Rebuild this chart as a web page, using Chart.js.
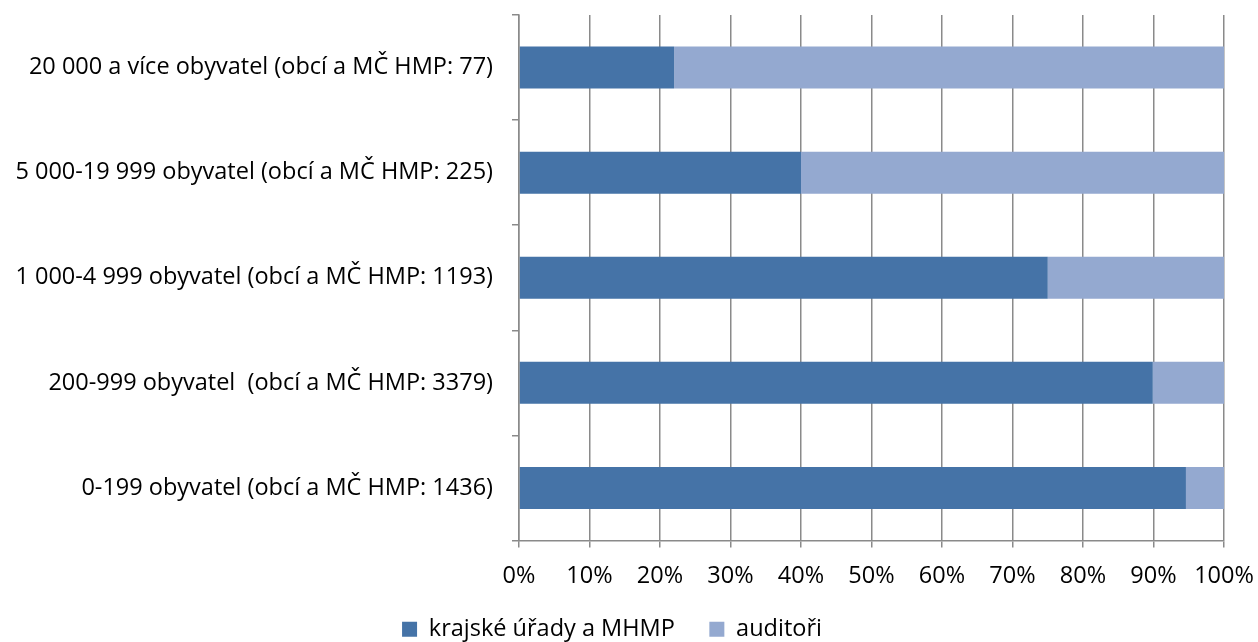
<!DOCTYPE html>
<html lang="cs">
<head>
  <meta charset="UTF-8">
  <title>Obce podle velikosti</title>
  <script src="https://cdn.jsdelivr.net/npm/chart.js"></script>
  <style>
    html,body{margin:0;background:#fff;}
    #wrap{width:1258px;height:642px;}
  </style>
</head>
<body>
  <div id="wrap"><canvas id="chart"></canvas></div>
  <script>
    /* ——— DATA ——— */
    const categories = [
      '20 000 a více obyvatel (obcí a MČ HMP: 77)',
      '5 000-19 999 obyvatel (obcí a MČ HMP: 225)',
      '1 000-4 999 obyvatel (obcí a MČ HMP: 1193)',
      '200-999 obyvatel  (obcí a MČ HMP: 3379)',
      '0-199 obyvatel (obcí a MČ HMP: 1436)'
    ];
    const seriesNames = ['krajské úřady a MHMP', 'auditoři'];
    const krajskeUrady = [22.0, 40.0, 75.0, 89.9, 94.6];
    const auditori = [78.0, 60.0, 25.0, 10.1, 5.4];
    const xTicks = [0,10,20,30,40,50,60,70,80,90,100];

    const FONT = {family:'"Open Sans", sans-serif', size:23.5};
    const GRID = '#8a8a8a';

    // nudge the legend a bit lower than Chart.js puts it
    const legendShift = {
      id: 'legendShift',
      afterLayout(chart) {
        chart.legend.top += 9;
        chart.legend.bottom += 9;
      }
    };

    new Chart(document.getElementById('chart'), {
      type: 'bar',
      data: {
        labels: categories,
        datasets: [
          {label: seriesNames[0], data: krajskeUrady, backgroundColor: '#4573a7'},
          {label: seriesNames[1], data: auditori, backgroundColor: '#94a9d0'}
        ]
      },
      plugins: [legendShift],
      options: {
        indexAxis: 'y',
        responsive: true,
        maintainAspectRatio: false,
        animation: false,
        layout: {padding: {top: 15, right: 34, bottom: 0, left: 0}},
        datasets: {bar: {categoryPercentage: 1, barPercentage: 0.4}},
        plugins: {
          legend: {
            position: 'bottom',
            labels: {
              color: '#000', font: FONT, boxWidth: 15, boxHeight: 15, padding: 4,
              // extra gap after first item, like the original
              generateLabels: chart => Chart.defaults.plugins.legend.labels.generateLabels(chart)
                .map((l, i) => (i === 0 ? {...l, text: l.text + '     '} : l))
            }
          },
          tooltip: {enabled: false}
        },
        scales: {
          x: {
            stacked: true,
            min: 0, max: 100,
            afterBuildTicks: s => { s.ticks = xTicks.map(v => ({value: v})); },
            afterFit: s => { s.height = 64; s.paddingLeft = 0; s.paddingRight = 0; },
            ticks: {color: '#000', font: FONT, padding: 15, callback: v => v + '%'},
            grid: {color: GRID, lineWidth: 1.5, tickLength: 7},
            border: {color: GRID, width: 1.5}
          },
          y: {
            stacked: true,
            afterFit: s => { s.width = 519; s.paddingTop = 0; s.paddingBottom = 0; },
            ticks: {color: '#000', font: FONT, padding: 19},
            grid: {color: GRID, lineWidth: 1.5, tickLength: 7, drawOnChartArea: false, offset: true},
            border: {color: GRID, width: 1.5}
          }
        }
      }
    });
  </script>
</body>
</html>
